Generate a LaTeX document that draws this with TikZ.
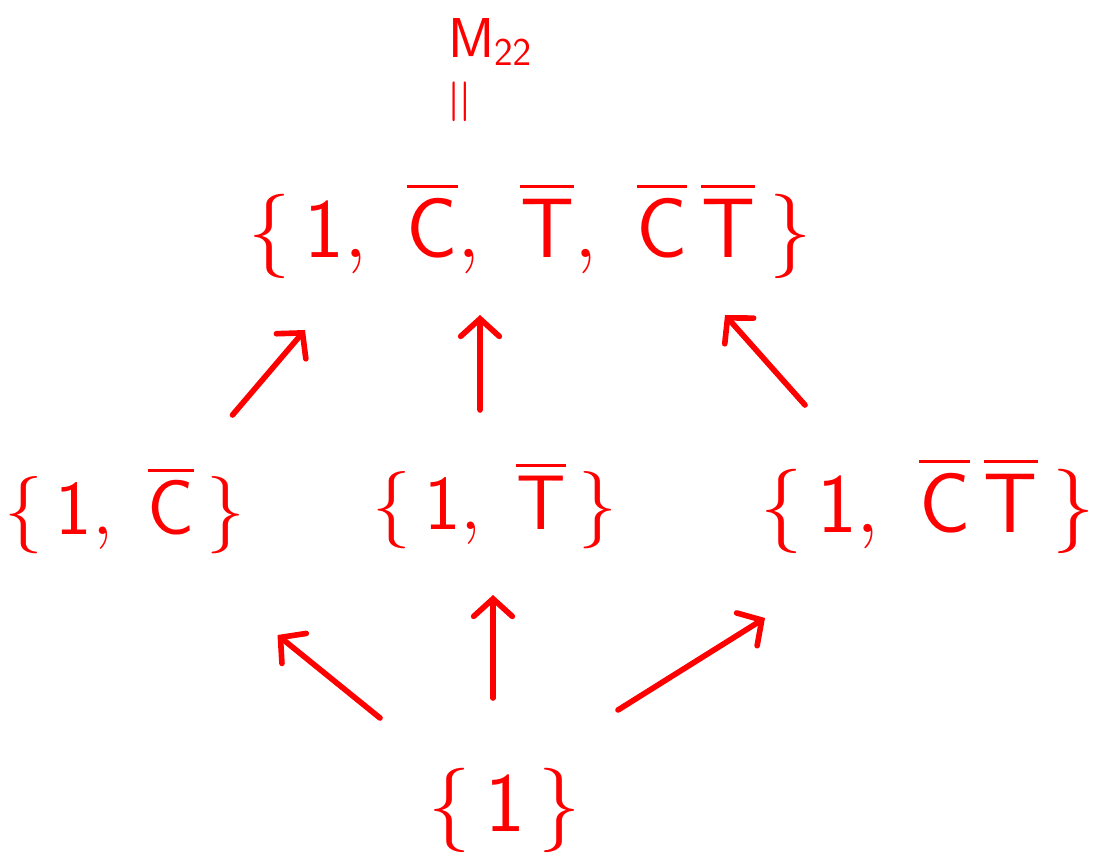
\RequirePackage{fix-cm}
\documentclass[tikz,border=0pt]{standalone}
\usepackage{amsmath,amssymb}
\usepackage{tikz}
\usetikzlibrary{arrows.meta,calc,positioning}
\definecolor{InkRed}{HTML}{FF0000}

\begin{document}
\begin{tikzpicture}[
      set/.style={text=InkRed,inner sep=2pt,font=\fontsize{48}{58}\selectfont},
      small set/.style={set,font=\fontsize{44}{52}\selectfont},
      lift/.style={draw=InkRed,line width=3.2pt,line cap=round,line join=round,
                   -{Straight Barb[length=10pt,width=22pt,line cap=round]}}]
    \useasboundingbox (0,0) rectangle (22.08,17.34);
    % The group at the top and its name.
    \node[text=InkRed,font=\fontsize{32}{38}\selectfont] (name) at (9.8,16.5)
      {$\mathsf{M}_{\mathsf{22}}$};
    \node[text=InkRed,font=\fontsize{36}{40}\selectfont] (equals) at (9.28,15.3)
      {\rotatebox{90}{$=$}};
    \node[set] (full) at (10.6,12.74)
      {$\{\,\mathsf{1},\ \overline{\mathsf{C}},\ \overline{\mathsf{T}},\
        \overline{\mathsf{C}}\,\overline{\mathsf{T}}\,\}$};

    % Three subgroups of order two.
    \node[small set] (withC) at (2.5,7.14)
      {$\{\,\mathsf{1},\;\overline{\mathsf{C}}\,\}$};
    \node[small set] (withT) at (9.9,7.24)
      {$\{\,\mathsf{1},\;\overline{\mathsf{T}}\,\}$};
    \node[set] (withCT) at (18.55,7.24)
      {$\{\,\mathsf{1},\ \overline{\mathsf{C}}\,\overline{\mathsf{T}}\,\}$};

    % The trivial group.
    \node[set] (unit) at (10.1,1.14) {$\{\,\mathsf{1}\,\}$};

    % Inclusions point upward.
    \draw[lift] ([shift={(2.15,1.9)}]withC.center)
      -- ([shift={(-4.5,-2.0)}]full.center);
    \draw[lift] ([shift={(-0.3,1.9)}]withT.center)
      -- ([shift={(-1.0,-1.7)}]full.center);
    \draw[lift] ([shift={(-2.45,2.0)}]withCT.center)
      -- ([shift={(3.9,-1.7)}]full.center);
    \draw[lift] ([shift={(-2.5,1.84)}]unit.center)
      -- ([shift={(3.05,-2.5)}]withC.center);
    \draw[lift] ([shift={(-0.24,2.24)}]unit.center)
      -- ([shift={(-0.04,-1.8)}]withT.center);
    \draw[lift] ([shift={(2.26,2.0)}]unit.center)
      -- ([shift={(-3.25,-2.26)}]withCT.center);
  \end{tikzpicture}
\end{document}
